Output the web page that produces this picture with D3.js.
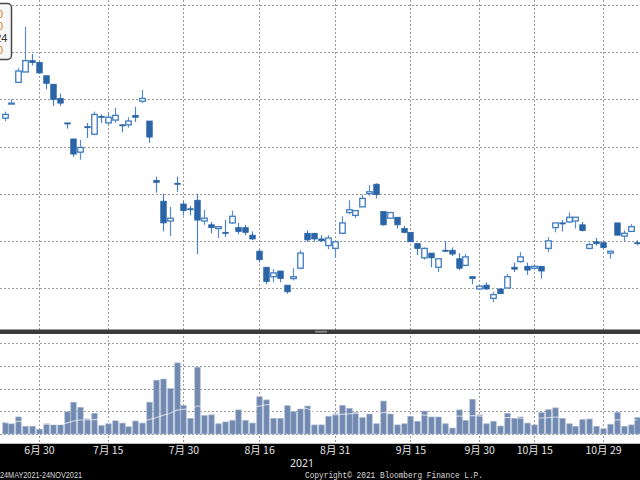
<!DOCTYPE html>
<html><head><meta charset="utf-8">
<script src="https://cdn.jsdelivr.net/npm/d3@7"></script>
<style>body{margin:0;background:#fff;overflow:hidden}svg{display:block}</style>
</head><body>
<svg id="chart" width="640" height="480"></svg>
<script>
// ---------- DATA ----------
const dates = ["06-23","06-24","06-25","06-28","06-29","06-30","07-02","07-05","07-06","07-07",
"07-08","07-09","07-12","07-13","07-14","07-15","07-16","07-19","07-20","07-21",
"07-22","07-23","07-26","07-27","07-28","07-29","07-30","08-02","08-03","08-04",
"08-05","08-06","08-09","08-10","08-11","08-12","08-13","08-16","08-17","08-18",
"08-19","08-20","08-23","08-24","08-25","08-26","08-27","08-30","08-31","09-01",
"09-02","09-03","09-06","09-07","09-08","09-09","09-10","09-13","09-14","09-15",
"09-16","09-17","09-20","09-21","09-23","09-24","09-27","09-28","09-29","09-30",
"10-04","10-05","10-06","10-07","10-08","10-11","10-12","10-15","10-18","10-19",
"10-20","10-21","10-22","10-25","10-26","10-27","10-28","10-29","11-01","11-02",
"11-03","11-04","11-05"];
const open = [88.0,89.55,91.8,92.9,94.1,93.9,92.5,91.6,90.1,87.5,
85.8,84.4,87.1,86.3,88.2,87.5,87.8,87.3,87.3,88.3,
89.8,87.7,81.4,79.2,77.1,81.1,78.9,78.4,79.3,77.1,
76.7,76.3,75.9,76.9,76.4,76.4,75.6,73.9,72.2,71.2,
71.8,70.3,71.0,72.1,75.8,75.8,75.2,74.5,74.2,75.8,
78.0,77.7,78.6,80.0,81.0,78.1,77.4,77.5,76.3,75.9,
74.7,73.2,73.7,72.2,74.0,74.0,73.1,72.4,71.2,69.9,
70.3,68.9,69.9,70.0,72.2,72.8,72.3,72.1,72.3,74.2,
76.4,76.9,77.0,77.1,76.7,74.2,74.9,74.8,73.7,76.9,
75.5,76.0,74.8];
const high = [88.7,90.0,93.3,97.7,94.8,94.0,92.5,91.6,90.6,87.5,
85.8,85.7,87.5,88.7,88.4,88.6,89.1,87.3,88.1,89.2,
91.0,87.7,81.8,80.0,78.6,81.8,79.2,78.7,80.0,78.3,
77.0,76.5,77.2,78.2,76.9,76.7,76.0,74.1,72.2,72.0,
71.8,70.3,72.1,74.0,76.1,75.8,75.6,75.6,74.9,77.6,
79.3,78.2,79.9,80.9,81.1,78.1,78.0,77.5,76.6,75.9,
74.7,74.3,73.7,73.1,75.0,74.3,73.7,73.6,71.2,70.3,
70.6,69.6,69.9,71.5,72.7,73.8,72.7,72.4,72.3,75.4,
76.9,77.2,78.0,77.5,77.0,74.8,75.3,74.9,73.9,76.9,
76.1,76.8,75.1];
const low = [87.7,89.5,91.8,92.9,93.6,92.7,91.1,89.3,89.3,86.9,
83.9,83.6,85.9,86.2,87.5,87.3,87.5,86.5,87.0,87.6,
89.6,85.4,80.1,76.0,75.5,80.2,77.7,77.7,73.6,76.7,
75.8,75.3,75.4,76.8,75.7,75.6,75.1,72.7,70.4,70.6,
70.6,69.4,70.8,72.0,74.9,74.9,74.9,74.1,73.2,75.7,
77.8,77.4,78.6,79.8,79.5,76.6,77.4,76.3,75.8,74.9,
73.5,73.0,72.2,71.7,73.8,73.4,71.9,72.3,70.4,69.8,
69.8,68.5,69.4,70.0,71.7,72.7,71.4,71.9,71.0,73.8,
75.9,76.0,76.9,76.3,76.0,74.1,74.5,74.2,73.1,75.6,
74.9,76.0,74.5];
const close = [88.4,89.6,93.0,94.1,93.9,92.8,91.7,90.0,89.6,87.4,
84.2,84.9,87.0,88.4,88.1,88.1,88.3,87.2,87.7,88.1,
90.1,86.0,81.2,76.9,77.4,81.0,78.2,78.3,77.2,77.4,
76.4,76.5,75.8,77.6,76.0,75.9,75.2,73.0,70.7,71.6,
71.0,69.6,71.2,73.7,75.1,75.2,75.0,75.3,74.9,76.9,
78.3,78.2,79.5,80.2,79.9,76.7,78.0,76.7,75.9,74.9,
74.2,74.2,73.2,73.1,73.9,73.6,72.1,73.3,71.0,70.2,
69.9,69.3,69.4,71.2,72.0,73.3,71.9,72.3,71.8,75.0,
76.9,76.8,77.5,77.5,76.1,74.6,74.7,74.3,73.9,75.6,
75.8,76.5,74.8];
const volume = [5.0,4.5,7.5,3.4,3.4,2.1,4.5,4.0,4.0,9.8,
14.0,11.7,6.6,9.1,3.7,4.5,5.9,4.8,3.2,5.9,
4.8,14.0,23.7,24.2,20.0,31.3,12.6,6.9,29.4,8.1,
8.4,4.5,5.3,6.0,10.6,6.0,4.8,16.4,15.0,6.9,
6.9,12.6,9.8,11.0,12.3,4.0,4.0,7.8,8.8,12.6,
11.3,9.5,7.2,8.8,4.5,14.5,8.8,4.0,4.5,7.8,
5.6,10.1,7.5,7.5,4.5,2.6,10.6,5.9,15.3,8.4,
4.5,5.6,3.5,9.1,6.9,7.5,4.8,4.0,9.4,10.7,
11.5,6.9,4.5,3.4,6.3,6.6,3.4,2.3,4.3,9.5,
3.4,4.0,7.2];
const tickDates = ["06-30","07-15","07-30","08-16","08-31","09-15","09-30","10-15","10-29"];
const tickLabels = ["6月 30","7月 15","7月 30","8月 16","8月 31","9月 15","9月 30","10月 15","10月 29"];
const priceTicks = [100,95,90,85,80,75,70];
const volumeTicks = [0,10,20,30,40];
const legendRows = [{t:"0",c:"#d4852c"},{t:"0",c:"#d4852c"},{t:"24",c:"#333"},{t:"0",c:"#d4852c"}];
const yearLabel = "2021";
const rangeLabel = "24MAY2021-24NOV2021";
const copyright = "Copyright\u00A9 2021 Bloomberg Finance L.P.";
const maWindow = 20;

// ---------- SCALES ----------
const svg = d3.select("#chart");
const x = d3.scalePoint().domain(dates).range([4.6, 637.4]);
const y = d3.scaleLinear().domain([70, 100]).range([288, 5]);
const yv = d3.scaleLinear().domain([0, 40]).range([434, 343.2]);

const data = dates.map((d, i) => ({d, o: open[i], h: high[i], l: low[i], c: close[i], v: volume[i]}));
data.forEach((p, i) => {
  const s = data.slice(Math.max(0, i - maWindow + 1), i + 1);
  p.ma = d3.mean(s, q => q.v);
});

const gridCol = "#9a9a9a";
// ---------- GRID ----------
const grid = svg.append("g");
grid.selectAll("line.hp").data(priceTicks).join("line")
  .attr("x1", 0).attr("x2", 640)
  .attr("y1", d => Math.round(y(d)) + 0.5).attr("y2", d => Math.round(y(d)) + 0.5)
  .attr("stroke", gridCol).attr("stroke-dasharray", "2,2");
grid.selectAll("line.hv").data(volumeTicks).join("line")
  .attr("x1", 0).attr("x2", 640)
  .attr("y1", d => Math.round(yv(d)) + 0.5).attr("y2", d => Math.round(yv(d)) + 0.5)
  .attr("stroke", gridCol).attr("stroke-dasharray", "2,2");
grid.selectAll("line.v").data(tickDates).join("line")
  .attr("x1", d => Math.round(x(d)) + 0.5).attr("x2", d => Math.round(x(d)) + 0.5)
  .attr("y1", 0).attr("y2", 443)
  .attr("stroke", gridCol).attr("stroke-dasharray", "2,2");

// ---------- CANDLES ----------
const bw = 5.5;
const up = "#3f7cc4", dn = "#2a64a6";
const cg = svg.append("g");
cg.selectAll("line.w").data(data).join("line")
  .attr("x1", d => Math.round(x(d.d)) + 0.5).attr("x2", d => Math.round(x(d.d)) + 0.5)
  .attr("y1", d => y(d.h)).attr("y2", d => y(d.l))
  .attr("stroke", d => d.c >= d.o ? "#5b8fcc" : "#4a82c2").attr("stroke-width", 1.2);
cg.selectAll("rect.b").data(data).join("rect")
  .attr("x", d => Math.round(x(d.d)) + 0.5 - bw / 2)
  .attr("width", bw)
  .attr("y", d => y(Math.max(d.o, d.c)))
  .attr("height", d => Math.max(1, Math.abs(y(d.o) - y(d.c))))
  .attr("fill", d => d.c > d.o ? "#fff" : dn)
  .attr("stroke", d => d.c > d.o ? up : dn)
  .attr("stroke-width", d => d.c > d.o ? 1.3 : 0.8);

// ---------- VOLUME ----------
const vg = svg.append("g");
vg.selectAll("rect").data(data).join("rect")
  .attr("x", d => Math.round(x(d.d)) + 0.5 - 2.7)
  .attr("width", 5.4)
  .attr("y", d => yv(d.v))
  .attr("height", d => yv(0) - yv(d.v))
  .attr("fill", "#7189b0").attr("stroke", "#a3b4cf").attr("stroke-width", 0.7);
vg.append("path").datum(data)
  .attr("d", d3.line().x(d => x(d.d)).y(d => yv(d.ma)))
  .attr("fill", "none").attr("stroke", "#ffffff").attr("stroke-opacity", 0.6).attr("stroke-width", 1.2);

// ---------- SEPARATOR ----------
svg.append("rect").attr("x", 0).attr("y", 329.5).attr("width", 640).attr("height", 4.5).attr("fill", "#3a3a3a");
svg.append("rect").attr("x", 315).attr("y", 330.8).attr("width", 12).attr("height", 1.8).attr("fill", "#8a8a8a");

// ---------- LEGEND BOX ----------
svg.append("rect").attr("x", -12).attr("y", 3.5).attr("width", 23.5).attr("height", 56).attr("rx", 4)
  .attr("fill", "#f7f7f7").attr("stroke", "#4a4a4a").attr("stroke-width", 1.5);
svg.append("g").selectAll("text").data(legendRows).join("text")
  .attr("x", d => d.t.length > 1 ? 7.5 : 3.2).attr("y", (d, i) => 17.5 + i * 12)
  .attr("text-anchor", "end").attr("font-family", "Liberation Sans, Arial, sans-serif")
  .attr("font-size", 11).attr("fill", d => d.c).text(d => d.t);

// ---------- AXIS BAND ----------
svg.append("rect").attr("x", 0).attr("y", 443).attr("width", 640).attr("height", 37).attr("fill", "#000");
svg.append("line").attr("x1", 0).attr("x2", 640).attr("y1", 443.5).attr("y2", 443.5).attr("stroke", "#bdbdbd");
const xAxis = d3.axisBottom(x).tickValues(tickDates).tickFormat((d, i) => tickLabels[i]).tickSize(0).tickPadding(0);
const ax = svg.append("g").attr("transform", "translate(0,446)").call(xAxis);
ax.select(".domain").remove();
ax.selectAll("text").attr("fill", "#e2e2e2").attr("font-size", 10.5)
  .attr("font-family", "'Noto Sans CJK SC', 'Noto Sans', sans-serif").attr("dy", "0.75em");
svg.append("text").attr("x", 302).attr("y", 467).attr("text-anchor", "middle")
  .attr("font-family", "'Noto Sans', sans-serif").attr("font-size", 10.5).attr("fill", "#e2e2e2").text(yearLabel);
svg.append("text").attr("x", 0).attr("y", 478).attr("font-family", "'Liberation Sans', sans-serif")
  .attr("font-size", 9).attr("fill", "#d8d8d8").attr("textLength", 82).attr("lengthAdjust", "spacingAndGlyphs").text(rangeLabel);
svg.append("text").attr("x", 305).attr("y", 478).attr("font-family", "'Liberation Mono', monospace")
  .attr("font-size", 8.5).attr("fill", "#d8d8d8").attr("textLength", 178).attr("lengthAdjust", "spacingAndGlyphs").text(copyright);
</script>
</body></html>
